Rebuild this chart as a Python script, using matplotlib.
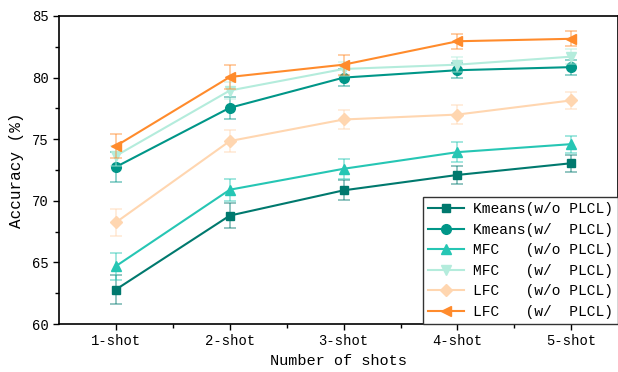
import matplotlib
matplotlib.use("Agg")
import matplotlib.pyplot as plt
from matplotlib.ticker import FixedLocator, MultipleLocator

plt.rcParams['font.family'] = ['Liberation Mono', 'DejaVu Sans Mono']

shots = ['1-shot', '2-shot', '3-shot', '4-shot', '5-shot']

kmeans_wo = [62.8, 68.8, 70.85, 72.1, 73.05]
kmeans_w = [72.75, 77.55, 80.0, 80.6, 80.85]
mfc_wo = [64.7, 70.9, 72.6, 73.95, 74.6]
mfc_w = [73.65, 78.95, 80.7, 81.05, 81.7]
lfc_wo = [68.25, 74.85, 76.6, 77.0, 78.15]
lfc_w = [74.45, 80.05, 81.05, 82.95, 83.15]

kmeans_wo_err = [1.2, 1.0, 0.8, 0.7, 0.7]
kmeans_w_err = [1.2, 0.9, 0.7, 0.6, 0.6]
mfc_wo_err = [1.1, 0.9, 0.8, 0.8, 0.7]
mfc_w_err = [0.8, 0.7, 0.6, 0.6, 0.6]
lfc_wo_err = [1.1, 0.9, 0.8, 0.8, 0.7]
lfc_w_err = [1.0, 1.0, 0.8, 0.6, 0.6]

labels = ['Kmeans(w/o PLCL)', 'Kmeans(w/  PLCL)', 'MFC   (w/o PLCL)',
          'MFC   (w/  PLCL)', 'LFC   (w/o PLCL)', 'LFC   (w/  PLCL)']
series = [kmeans_wo, kmeans_w, mfc_wo, mfc_w, lfc_wo, lfc_w]
errors = [kmeans_wo_err, kmeans_w_err, mfc_wo_err, mfc_w_err, lfc_wo_err, lfc_w_err]
colors = ['#00796e', '#009688', '#26c6b4', '#b4ecdc', '#ffd6b0', '#ff8b2c']
markers = ['s', 'o', '^', 'v', 'D', '<']
msizes = [6, 7, 7, 7, 6, 7]

fig = plt.figure(figsize=(6.18, 3.72), dpi=100)
ax = fig.add_axes([0.0955, 0.129, 0.9045, 0.828])

x = list(range(len(shots)))
for y, e, c, m, ms, lab in zip(series, errors, colors, markers, msizes, labels):
    ax.errorbar(x, y, yerr=e, fmt='none', ecolor=c, alpha=0.5,
                capsize=4, elinewidth=1.2, capthick=1.2)
    ax.plot(x, y, color=c, marker=m, markersize=ms, linewidth=1.5, label=lab)

ax.set_xlim(-0.5, 4.41)
ax.set_ylim(60, 85)
ax.set_xticks(x)
ax.set_xticklabels(shots)
ax.xaxis.set_minor_locator(FixedLocator([0.5, 1.5, 2.5, 3.5]))
ax.yaxis.set_major_locator(MultipleLocator(5))
ax.yaxis.set_minor_locator(MultipleLocator(2.5))
ax.tick_params(which='both', direction='out', labelsize=10, width=1)
ax.tick_params(which='major', length=4)
ax.tick_params(which='minor', length=3)
for s in ax.spines.values():
    s.set_linewidth(1.2)

ax.set_xlabel('Number of shots', fontsize=11, labelpad=4)
ax.set_ylabel('Accuracy (%)', fontsize=11.5, labelpad=6)

leg = ax.legend(loc='lower right', borderaxespad=0, fontsize=10.5,
                fancybox=False, edgecolor='#333333', framealpha=1,
                handlelength=2.5, handletextpad=0.6, labelspacing=0.45,
                borderpad=0.35)
leg.get_frame().set_linewidth(1.0)

fig.savefig('out.png', dpi=100)
